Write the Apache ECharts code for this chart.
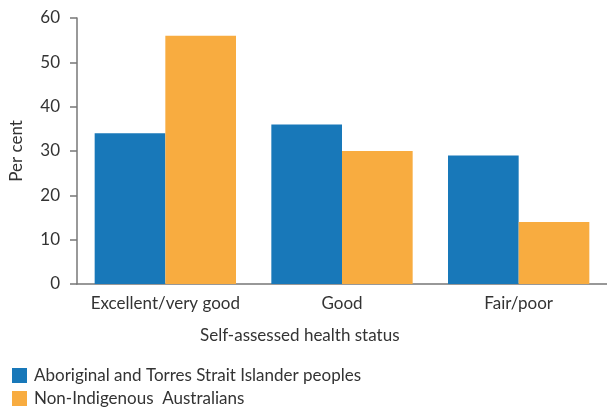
<!DOCTYPE html>
<html>
<head>
<meta charset="utf-8">
<script src="https://cdn.jsdelivr.net/npm/echarts@6/dist/echarts.min.js"></script>
<style>html,body{margin:0;padding:0;background:#fff}#c{width:607px;height:410px}</style>
</head>
<body>
<div id="c"></div>
<script>
const categories = ['Excellent/very good', 'Good', 'Fair/poor'];
const seriesNames = ['Aboriginal and Torres Strait Islander peoples', 'Non-Indigenous  Australians'];
const indigenous = [34, 36, 29];
const nonIndigenous = [56, 30, 14];
const yTicks = [0, 10, 20, 30, 40, 50, 60];

const FONT = 'Lato';
const legendText = {fontFamily: FONT, fontSize: 17, color: '#333', padding: [0, 0, 0, 2]};
const chart = echarts.init(document.getElementById('c'), null, {renderer: 'canvas'});
chart.setOption({
  animation: false,
  backgroundColor: '#ffffff',
  textStyle: {fontFamily: FONT},
  grid: {left: 77, right: 0, top: 18, bottom: 126, containLabel: false},
  title: {
    text: 'Self-assessed health status',
    left: 195, top: 322,
    textStyle: {fontFamily: FONT, fontSize: 17, fontWeight: 'normal', color: '#333'}
  },
  legend: [
    {left: 7, top: 362, padding: 5, itemWidth: 15, itemHeight: 15, icon: 'rect', textStyle: legendText, data: [seriesNames[0]], selectedMode: false},
    {left: 7, top: 385, padding: 5, itemWidth: 15, itemHeight: 15, icon: 'rect', textStyle: legendText, data: [seriesNames[1]], selectedMode: false}
  ],
  xAxis: {
    type: 'category',
    data: categories,
    axisLine: {lineStyle: {color: '#777', width: 1.5}},
    axisTick: {show: false},
    axisLabel: {fontFamily: FONT, fontSize: 17, color: '#333', margin: 11, interval: 0}
  },
  yAxis: {
    type: 'value',
    min: yTicks[0], max: yTicks[yTicks.length - 1], interval: 10,
    name: 'Per cent', nameLocation: 'middle', nameGap: 52,
    nameTextStyle: {fontFamily: FONT, fontSize: 17, color: '#333'},
    axisLine: {show: true, lineStyle: {color: '#777', width: 1.5}},
    axisTick: {show: true, length: 7, lineStyle: {color: '#777', width: 1.5}},
    axisLabel: {fontFamily: FONT, fontSize: 17, color: '#333', margin: 17},
    splitLine: {show: false}
  },
  series: [
    {name: seriesNames[0], type: 'bar', data: indigenous, itemStyle: {color: '#1878b9'}, barGap: '0%', barCategoryGap: '20%'},
    {name: seriesNames[1], type: 'bar', data: nonIndigenous, itemStyle: {color: '#f8ac40'}, barGap: '0%', barCategoryGap: '20%'}
  ]
});
</script>
</body>
</html>
